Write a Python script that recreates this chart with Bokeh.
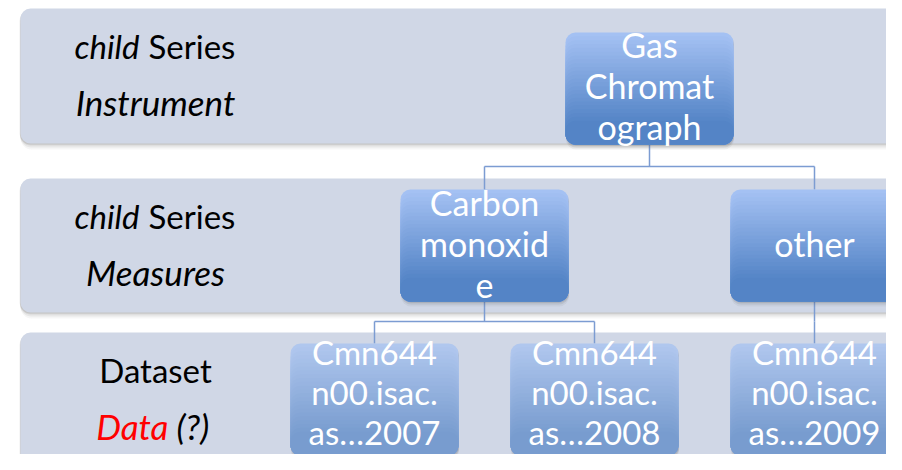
from bokeh.plotting import figure
from bokeh.models import Range1d
from bokeh.core.properties import value
from bokeh.embed import file_html
from bokeh.resources import INLINE

# ---------------- data ----------------
level_line1_a = ["child", "child", ""]           # italic part of first line
level_line1_b = ["Series", "Series", "Dataset"]  # normal part of first line
level_line2_a = ["Instrument", "Measures", "Data"]
level_line2_a_color = ["black", "black", "red"]
level_line2_b = ["", "", "(?)"]

node_labels = ["Gas\nChromat\nograph",
               "Carbon\nmonoxid\ne",
               "other",
               "Cmn644\nn00.isac.\nas…2007",
               "Cmn644\nn00.isac.\nas…2008",
               "Cmn644\nn00.isac.\nas…2009"]
node_level = [0, 1, 1, 2, 2, 2]
node_parent = [None, 0, 0, 1, 1, 2]

# ---------------- layout ----------------
FONT = "Lato"
band_top = [8, 178, 332]
band_bot = [143, 312, 480]
band_left, band_right = 20, 920
box_top = [32, 189, 343]
BOX_W, BOX_H = 168, 112
leaf_x0, leaf_dx = 374, 220
mid_y = [166, 321]
text_shift = [-3, -2, -8]
node_fs = ["34px", "34px", "33px"]

n = len(node_labels)
children = {i: [j for j in range(n) if node_parent[j] == i] for i in range(n)}
cx = [None] * n
leaf_count = 0
def place(i):
    global leaf_count
    if not children[i]:
        cx[i] = leaf_x0 + leaf_dx * leaf_count
        leaf_count += 1
    else:
        for c in children[i]:
            place(c)
        cx[i] = sum(cx[c] for c in children[i]) / len(children[i])
place(0)

p = figure(width=886, height=454, output_backend="svg", toolbar_location=None,
           x_range=Range1d(0, 886), y_range=Range1d(454, 0),
           min_border=0, outline_line_color=None, background_fill_color="white")
p.axis.visible = False
p.grid.visible = False

def hexc(c):
    return "#%02x%02x%02x" % tuple(int(round(v)) for v in c)

def lerp(a, b, t):
    return tuple(a[k] + (b[k] - a[k]) * t for k in range(3))

# band shadows
for off, al in [(6, 0.05), (4, 0.08), (2, 0.12), (1, 0.12)]:
    p.quad(left=[band_left - 1 + off * 0.2] * 3, right=[band_right] * 3,
           top=[t + off for t in band_top], bottom=[b + off for b in band_bot],
           fill_color="#505050", fill_alpha=al, line_color=None, border_radius=11)
p.quad(left=[band_left] * 3, right=[band_right] * 3, top=band_top, bottom=band_bot,
       fill_color="#d0d7e6", line_color=None, border_radius=10)

# left labels
LFS = "33px"
LFS2 = "35px"
split1 = [143.5, 143.5, 155]
for i in range(3):
    y1 = band_top[i] + 37
    y2 = band_top[i] + 93
    if level_line1_a[i]:
        p.text(x=[split1[i] - 4.5], y=[y1], text=[level_line1_a[i]], text_align="right",
               text_baseline="alphabetic", text_font=value(FONT), text_font_style="italic",
               text_font_size=LFS, text_color="black")
        p.text(x=[split1[i] + 4.5], y=[y1], text=[level_line1_b[i]], text_align="left",
               text_baseline="alphabetic", text_font=value(FONT),
               text_font_size=LFS, text_color="black")
    else:
        p.text(x=[split1[i]], y=[y1], text=[level_line1_b[i]], text_align="center",
               text_baseline="alphabetic", text_font=value(FONT),
               text_font_size=LFS, text_color="black")
    if level_line2_b[i]:
        p.text(x=[168], y=[y2], text=[level_line2_a[i]], text_align="right",
               text_baseline="alphabetic", text_font=value(FONT), text_font_style="italic",
               text_font_size=LFS2, text_color=level_line2_a_color[i])
        p.text(x=[176], y=[y2], text=[level_line2_b[i]], text_align="left",
               text_baseline="alphabetic", text_font=value(FONT), text_font_style="italic",
               text_font_size=LFS2, text_color="black")
    else:
        p.text(x=[155], y=[y2], text=[level_line2_a[i]], text_align="center",
               text_baseline="alphabetic", text_font=value(FONT), text_font_style="italic",
               text_font_size=LFS2, text_color=level_line2_a_color[i])

# connectors
LC = "#7c9cd2"
for i in range(n):
    kids = children[i]
    if not kids:
        continue
    lv = node_level[i]
    ptop = box_top[lv] + BOX_H
    my = mid_y[lv]
    ctop = box_top[lv + 1]
    p.line(x=[cx[i], cx[i]], y=[ptop, my], line_color=LC, line_width=1.5)
    xs = [cx[c] for c in kids]
    if len(xs) > 1:
        p.line(x=[min(xs), max(xs)], y=[my, my], line_color=LC, line_width=1.5)
    for c in kids:
        p.line(x=[cx[c], cx[c]], y=[my, ctop], line_color=LC, line_width=1.5)

# boxes with gradient
TOP_C = (164, 193, 243)
BOT_C = (84, 132, 198)
TOP_C2 = (176, 199, 238)
BOT_C2 = (120, 156, 207)
R = 10
NL = 24
for i in range(n):
    lv = node_level[i]
    l = cx[i] - BOX_W / 2
    r = cx[i] + BOX_W / 2
    t = box_top[lv]
    b = t + BOX_H
    c0, c1 = (TOP_C, BOT_C) if lv < 2 else (TOP_C2, BOT_C2)
    for off, al in [(5, 0.06), (3, 0.1), (1.5, 0.12)]:
        p.quad(left=[l + 0.5], right=[r + 0.5], top=[t + off], bottom=[b + off],
               fill_color="#404040", fill_alpha=al, line_color=None, border_radius=R)
    span = BOX_H - 2 * R
    for k in range(NL):
        tk = t + span * k / NL
        col = lerp(c0, c1, k / (NL - 1))
        p.quad(left=[l], right=[r], top=[tk], bottom=[b], fill_color=hexc(col),
               line_color=None, border_radius=R)
    p.text(x=[cx[i]], y=[t + BOX_H / 2 + text_shift[lv]], text=[node_labels[i]],
           text_align="center", text_baseline="middle", text_font=value(FONT),
           text_font_size=node_fs[lv], text_color="white", text_line_height=1.0)

open("out.html", "w").write(file_html(p, INLINE))
